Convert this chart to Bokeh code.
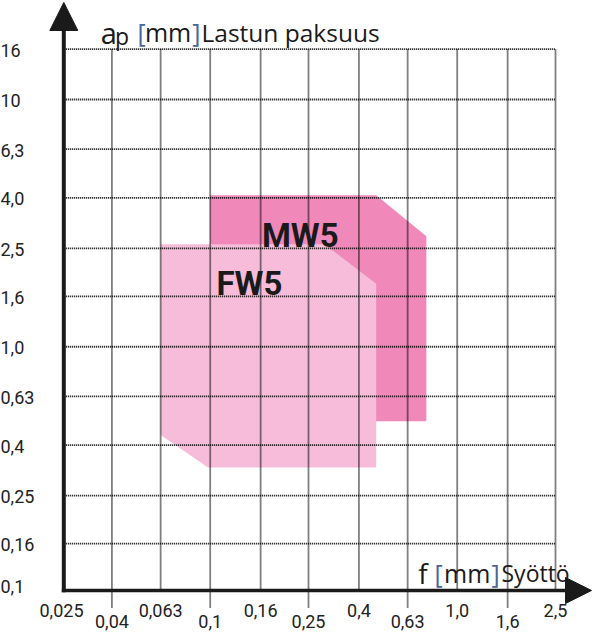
import math
from bokeh.plotting import figure
from bokeh.models import Range1d, Arrow, NormalHead
from bokeh.embed import file_html
from bokeh.resources import INLINE
from bokeh.core.properties import value

# ---------------- data ----------------
x_ticks = [0.025, 0.04, 0.063, 0.1, 0.16, 0.25, 0.4, 0.63, 1.0, 1.6, 2.5]
x_labels = ["0,025", "0,04", "0,063", "0,1", "0,16", "0,25", "0,4", "0,63", "1,0", "1,6", "2,5"]
y_ticks = [0.1, 0.16, 0.25, 0.4, 0.63, 1.0, 1.6, 2.5, 4.0, 6.3, 10, 16]
y_labels = ["0,1", "0,16", "0,25", "0,4", "0,63", "1,0", "1,6", "2,5", "4,0", "6,3", "10", "16"]

mw5_f = [0.1, 0.47, 0.75, 0.75, 0.1]
mw5_ap = [4.1, 4.1, 2.8, 0.5, 0.5]
fw5_f = [0.063, 0.29, 0.47, 0.47, 0.098, 0.063]
fw5_ap = [2.6, 2.6, 1.8, 0.325, 0.325, 0.44]

regions = ["MW5", "FW5"]
region_label_f = [0.162, 0.106]
region_label_ap = [2.82, 1.81]

# ---------------- geometry ----------------
W, H = 592, 632
PX_DEC_X = 247.0              # pixels per decade
PX_DEC_Y = 247.25
X0 = 61.0                     # pixel of f = 0.025
Y0 = 593.5                    # pixel of ap = 0.1

def fx(px):  # pixel -> f value
    return 0.025 * 10 ** ((px - X0) / PX_DEC_X)

def fy(py):  # pixel (from top) -> ap value
    return 0.1 * 10 ** ((Y0 - py) / PX_DEC_Y)

p = figure(width=W, height=H, output_backend="svg", toolbar_location=None,
           x_axis_type="log", y_axis_type="log",
           x_range=Range1d(fx(0), fx(W)), y_range=Range1d(fy(H), fy(0)),
           x_axis_location=None, y_axis_location=None,
           min_border=0, tools="")
p.grid.visible = False
p.outline_line_color = None
p.background_fill_color = "white"
p.border_fill_color = "white"

ax_x = fx(63.3)     # vertical axis line
ax_y = fy(590.0)    # horizontal axis line
ink = "#1a1a1a"

# ---------------- regions ----------------
p.patch(mw5_f, mw5_ap, fill_color="#f088b9", line_color=None)
p.patch(fw5_f, fw5_ap, fill_color="#f6bcd9", line_color=None)

# ---------------- grid ----------------
grid_y = y_ticks[1:]
p.segment(x0=[ax_x] * len(grid_y), y0=grid_y, x1=[x_ticks[-1]] * len(grid_y), y1=grid_y,
          line_color="black", line_width=1.8, line_dash="1 1")
grid_x = x_ticks[1:]
low = fy(607)
vy0 = [low if (i % 2 == 1) else ax_y for i in range(1, len(x_ticks))]
p.segment(x0=grid_x, y0=vy0, x1=grid_x, y1=[y_ticks[-1]] * len(grid_x),
          line_color="black", line_width=1.8, line_dash="1 1")

# ---------------- axes ----------------
p.add_layout(Arrow(x_start=fx(61.3), y_start=ax_y, x_end=fx(591), y_end=ax_y,
                   line_color=ink, line_width=3.5,
                   end=NormalHead(size=26, fill_color=ink, line_color=ink, line_width=1)))
p.add_layout(Arrow(x_start=ax_x, y_start=fy(591.7), x_end=ax_x, y_end=fy(2),
                   line_color=ink, line_width=4,
                   end=NormalHead(size=28, fill_color=ink, line_color=ink, line_width=1)))

# ---------------- tick labels ----------------
tick_font = value("Roboto")
y_off = [-8 if i == 0 else 1 for i in range(len(y_ticks))]
p.text(x=[fx(0)] * len(y_ticks), y=y_ticks, text=y_labels, text_align="left",
       text_baseline="middle", text_font=tick_font, text_font_size="18px",
       text_color="#222222", y_offset=y_off, text_line_height=1.0)
x_off = [20 if i % 2 == 0 else 31 for i in range(len(x_ticks))]
p.text(x=x_ticks, y=[ax_y] * len(x_ticks), text=x_labels, text_align="center",
       text_baseline="middle", text_font=tick_font, text_font_size="18px",
       text_color="#222222", y_offset=x_off, text_line_height=1.0)

# ---------------- region labels ----------------
p.text(x=region_label_f, y=region_label_ap, text=regions, text_align="left",
       text_baseline="alphabetic", text_font=value("Roboto"), text_font_style="bold",
       text_font_size="33px", text_color=ink)

# ---------------- axis titles ----------------
title_font = value("Open Sans")
blue = "#45669a"

def t(px, py, s, size, color=ink):
    p.text(x=[fx(px)], y=[fy(py)], text=[s], text_align="left", text_baseline="alphabetic",
           text_font=title_font, text_font_size=size, text_color=color)

t(100.3, 31.7, "a", "29px")
t(114.5, 35.5, "p", "23px")
t(137.0, 31.7, "[", "25px", blue)
t(144.4, 31.7, "mm", "25px")
t(191.8, 31.7, "]", "25px", blue)
t(201.0, 31.7, "Lastun paksuus", "24.5px")

t(417.7, 572.3, "f", "28px")
t(434.0, 572.3, "[", "25px", blue)
t(443.5, 572.3, "mm", "25px")
t(490.9, 572.3, "]", "25px", blue)
t(501.0, 572.3, "Syöttö", "23px")

open("out.html", "w").write(file_html(p, INLINE))
